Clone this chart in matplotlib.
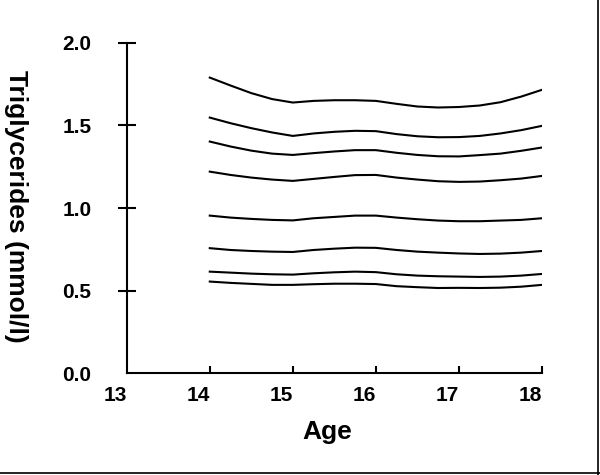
import matplotlib
matplotlib.use("Agg")
import matplotlib.pyplot as plt
from matplotlib.lines import Line2D

plt.rcParams["font.family"] = ["Liberation Sans", "DejaVu Sans"]
plt.rcParams["font.weight"] = "bold"

ages = [14.0, 14.25, 14.5, 14.75, 15.0, 15.25, 15.5, 15.75, 16.0,
        16.25, 16.5, 16.75, 17.0, 17.25, 17.5, 17.75, 18.0]

# percentile curves, top to bottom
curve_1 = [1.789, 1.741, 1.695, 1.659, 1.638, 1.648, 1.652, 1.652, 1.648,
           1.630, 1.614, 1.608, 1.611, 1.620, 1.640, 1.674, 1.715]
curve_2 = [1.547, 1.513, 1.483, 1.457, 1.436, 1.451, 1.461, 1.467, 1.465,
           1.447, 1.434, 1.428, 1.429, 1.436, 1.451, 1.471, 1.497]
curve_3 = [1.402, 1.372, 1.347, 1.329, 1.321, 1.332, 1.342, 1.350, 1.350,
           1.334, 1.321, 1.313, 1.312, 1.320, 1.329, 1.346, 1.366]
curve_4 = [1.220, 1.200, 1.184, 1.172, 1.164, 1.176, 1.188, 1.199, 1.200,
           1.184, 1.172, 1.162, 1.158, 1.160, 1.168, 1.178, 1.194]
curve_5 = [0.954, 0.942, 0.934, 0.928, 0.925, 0.938, 0.946, 0.954, 0.954,
           0.942, 0.932, 0.924, 0.920, 0.920, 0.924, 0.928, 0.938]
curve_6 = [0.757, 0.746, 0.740, 0.736, 0.734, 0.746, 0.754, 0.760, 0.759,
           0.746, 0.736, 0.730, 0.725, 0.722, 0.724, 0.730, 0.740]
curve_7 = [0.615, 0.609, 0.603, 0.599, 0.597, 0.605, 0.611, 0.615, 0.612,
           0.599, 0.591, 0.587, 0.585, 0.583, 0.585, 0.591, 0.601]
curve_8 = [0.555, 0.547, 0.541, 0.535, 0.535, 0.539, 0.542, 0.542, 0.540,
           0.527, 0.521, 0.516, 0.517, 0.516, 0.518, 0.524, 0.535]

x_ticks = [13, 14, 15, 16, 17, 18]
y_ticks = [0.0, 0.5, 1.0, 1.5, 2.0]
y_tick_labels = ["0.0", "0.5", "1.0", "1.5", "2.0"]


def main() -> None:
    fig = plt.figure(figsize=(6.0, 4.75), dpi=100)
    ax = fig.add_axes([0.2112, 0.2141, 0.6921, 0.6960])

    for curve in (curve_1, curve_2, curve_3, curve_4,
                  curve_5, curve_6, curve_7, curve_8):
        ax.plot(ages, curve, color="black", lw=1.5)

    ax.set_xlim(13, 18)
    ax.set_ylim(0, 2.0)
    for side in ("top", "right"):
        ax.spines[side].set_visible(False)
    for side in ("left", "bottom"):
        ax.spines[side].set_linewidth(1.5)

    ax.set_xticks(x_ticks)
    ax.set_xticklabels([str(t) for t in x_ticks], ha="right")
    ax.set_yticks(y_ticks)
    ax.set_yticklabels(y_tick_labels)
    ax.tick_params(axis="x", direction="in", length=5, width=1.5, pad=9,
                   labelsize=15)
    ax.tick_params(axis="y", direction="inout", length=13, width=1.5, pad=19,
                   labelsize=15)
    ax.yaxis.get_major_ticks()[0].tick1line.set_visible(False)
    ax.xaxis.get_major_ticks()[0].tick1line.set_visible(False)

    ax.set_xlabel("Age", fontsize=19, fontweight="bold")
    ax.xaxis.set_label_coords(0.482, -0.14)
    ax.set_ylabel("Triglycerides (mmol/l)", fontsize=19, fontweight="bold",
                  rotation=270, va="center")
    ax.yaxis.set_label_coords(-0.267, 0.506)

    # frame edges visible in the reference (right and bottom)
    fig.add_artist(Line2D([0.9967, 0.9967], [0.0, 1.0], color="black", lw=1.2,
                          transform=fig.transFigure))
    fig.add_artist(Line2D([0.0, 1.0], [0.004, 0.004], color="black", lw=1.2,
                          transform=fig.transFigure))

    fig.savefig("out.png", dpi=100)


if __name__ == "__main__":
    main()
